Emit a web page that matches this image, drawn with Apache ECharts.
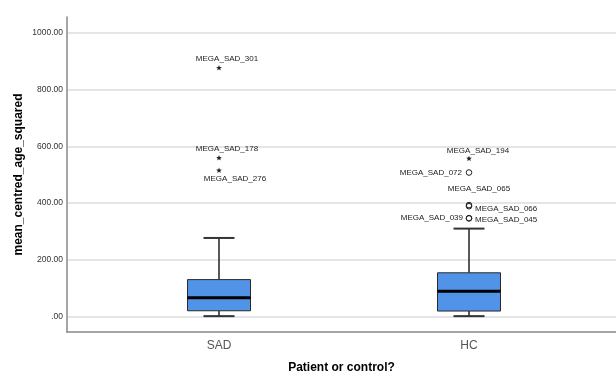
<!DOCTYPE html>
<html>
<head>
<meta charset="utf-8">
<script src="https://cdn.jsdelivr.net/npm/echarts@6/dist/echarts.min.js"></script>
<style>html,body{margin:0;padding:0;background:#fff}#c{width:616px;height:376px}</style>
</head>
<body>
<div id="c"></div>
<script>
// ---- data ----
var categories = ['SAD', 'HC'];
var boxMin = [1, 1];
var boxQ1 = [20, 19];
var boxMedian = [66, 89];
var boxQ3 = [130, 154];
var boxMax = [277, 310];
var yTicks = [0, 200, 400, 600, 800, 1000];

var outlierGroup = [0, 0, 0, 1, 1, 1, 1, 1, 1];
var outlierName = ['MEGA_SAD_301', 'MEGA_SAD_178', 'MEGA_SAD_276', 'MEGA_SAD_194', 'MEGA_SAD_072', 'MEGA_SAD_065', 'MEGA_SAD_066', 'MEGA_SAD_045', 'MEGA_SAD_039'];
var outlierValue = [877, 559, 515, 557, 508, 393, 389, 346, 347];
var outlierKind = ['extreme', 'extreme', 'extreme', 'extreme', 'outlier', 'outlier', 'outlier', 'outlier', 'outlier'];

// ---- styling (label placement relative to marker, px) ----
var labelPlace = {
  'MEGA_SAD_301': {dx: 8, dy: -9, align: 'center'},
  'MEGA_SAD_178': {dx: 8, dy: -9, align: 'center'},
  'MEGA_SAD_276': {dx: 16, dy: 8, align: 'center'},
  'MEGA_SAD_194': {dx: 9, dy: -8, align: 'center'},
  'MEGA_SAD_072': {dx: -4, dy: 0, align: 'right'},
  'MEGA_SAD_065': {dx: 10, dy: -16, align: 'center'},
  'MEGA_SAD_066': {dx: 3, dy: 3, align: 'left'},
  'MEGA_SAD_045': {dx: 3, dy: 1, align: 'left'},
  'MEGA_SAD_039': {dx: -3, dy: 0, align: 'right'}
};
var FONT = '"Liberation Sans", Arial, sans-serif';

var boxData = categories.map(function (c, i) {
  return [i, boxMin[i], boxQ1[i], boxMedian[i], boxQ3[i], boxMax[i]];
});
var outData = outlierName.map(function (n, i) {
  return [outlierGroup[i], outlierValue[i], i];
});

var chart = echarts.init(document.getElementById('c'), null, {renderer: 'canvas'});
chart.setOption({
  animation: false,
  backgroundColor: '#fff',
  grid: {left: 67, right: 0, top: 17, bottom: 44, containLabel: false, outerBoundsMode: 'none'},
  xAxis: {
    type: 'value', min: -0.608, max: 1.588,
    name: 'Patient or control?', nameLocation: 'middle', nameGap: 30, nameMoveOverlap: false,
    nameTextStyle: {fontFamily: FONT, fontWeight: 'bold', fontSize: 12, color: '#000'},
    axisLine: {show: true, onZero: false, lineStyle: {color: '#888', width: 1.5}},
    axisTick: {show: false, customValues: [0, 1]},
    axisLabel: {customValues: [0, 1], margin: 8, fontFamily: FONT, fontSize: 12, color: '#555',
      formatter: function (v) { return categories[Math.round(v)] || ''; }},
    splitLine: {show: false}
  },
  yAxis: {
    type: 'value', min: -55, max: 1057,
    name: 'mean_centred_age_squared', nameLocation: 'middle', nameGap: 42, nameMoveOverlap: false,
    nameTextStyle: {fontFamily: FONT, fontWeight: 'bold', fontSize: 12, color: '#000'},
    axisLine: {show: true, onZero: false, lineStyle: {color: '#888', width: 1.5}},
    axisTick: {show: false, customValues: yTicks},
    axisLabel: {customValues: yTicks, margin: 4, fontFamily: FONT, fontSize: 8.5, color: '#333',
      formatter: function (v) { return v === 0 ? '.00' : v.toFixed(2); }},
    splitLine: {show: true, lineStyle: {color: '#dcdcdc', width: 1.5}}
  },
  series: [
    {
      type: 'custom', data: boxData, clip: false,
      renderItem: function (params, api) {
        var x = api.value(0);
        var halfBox = 0.126, halfCap = 0.062;
        var pMin = api.coord([x, api.value(1)]);
        var pQ1 = api.coord([x, api.value(2)]);
        var pMed = api.coord([x, api.value(3)]);
        var pQ3 = api.coord([x, api.value(4)]);
        var pMax = api.coord([x, api.value(5)]);
        var l = api.coord([x - halfBox, 0])[0], r = api.coord([x + halfBox, 0])[0];
        var cl = api.coord([x - halfCap, 0])[0], cr = api.coord([x + halfCap, 0])[0];
        var ls = {stroke: '#222', lineWidth: 1.5};
        return {type: 'group', children: [
          {type: 'line', shape: {x1: pMax[0], y1: pMax[1], x2: pQ3[0], y2: pQ3[1]}, style: ls},
          {type: 'line', shape: {x1: pMin[0], y1: pMin[1], x2: pQ1[0], y2: pQ1[1]}, style: ls},
          {type: 'line', shape: {x1: cl, y1: pMax[1], x2: cr, y2: pMax[1]}, style: {stroke: '#333', lineWidth: 2}},
          {type: 'line', shape: {x1: cl, y1: pMin[1], x2: cr, y2: pMin[1]}, style: {stroke: '#333', lineWidth: 2}},
          {type: 'rect', shape: {x: l, y: pQ3[1], width: r - l, height: pQ1[1] - pQ3[1]},
            style: {fill: '#5193e6', stroke: '#2a2a2a', lineWidth: 1}},
          {type: 'line', shape: {x1: l, y1: pMed[1], x2: r, y2: pMed[1]}, style: {stroke: '#000', lineWidth: 3}}
        ]};
      }
    },
    {
      type: 'custom', data: outData, clip: false, z: 5,
      renderItem: function (params, api) {
        var p = api.coord([api.value(0), api.value(1)]);
        var idx = api.value(2);
        var name = outlierName[idx];
        var pl = labelPlace[name];
        var children = [];
        if (outlierKind[idx] === 'extreme') {
          var pts = [];
          for (var k = 0; k < 10; k++) {
            var rr = k % 2 === 0 ? 3 : 1.3;
            var a = -Math.PI / 2 + k * Math.PI / 5;
            pts.push([p[0] + rr * Math.cos(a), p[1] + rr * Math.sin(a)]);
          }
          children.push({type: 'polygon', shape: {points: pts}, style: {fill: '#222'}});
        } else {
          children.push({type: 'circle', shape: {cx: p[0], cy: p[1], r: 2.8}, style: {fill: 'none', stroke: '#222', lineWidth: 1}});
        }
        children.push({type: 'text', x: p[0] + pl.dx + (pl.align === 'right' ? -3 : pl.align === 'left' ? 3 : 0), y: p[1] + pl.dy,
          style: {text: name, fill: '#222', font: '8px ' + FONT, align: pl.align, verticalAlign: 'middle'}});
        return {type: 'group', children: children};
      }
    }
  ]
});
</script>
</body>
</html>
